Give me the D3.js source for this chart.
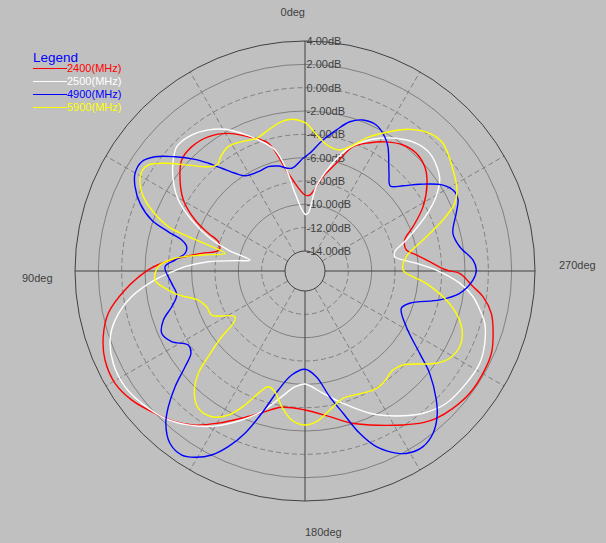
<!DOCTYPE html>
<html><head><meta charset="utf-8">
<script src="https://cdn.jsdelivr.net/npm/d3@7"></script>
<style>html,body{margin:0;padding:0;background:#c0c0c0;}svg{display:block;}</style>
</head><body>
<script>
// ---- data (angle in degrees, counter-clockwise from 0deg at top; gain in dB) ----
const seriesNames = ["2400(MHz)", "2500(MHz)", "4900(MHz)", "5900(MHz)"];
const seriesColors = ["#ff0000", "#ffffff", "#0000ff", "#ffff00"];

const redAngles = [0,9.7,16,22.9,29.1,35.8,42.3,48,53.9,59.7,65.1,68.7,71.3,76.3,80.3,83.2,86.9,89.6,96,102.1,108,114,120.6,126.7,133.5,139.2,144.5,150.3,156.7,163,170.3,180,189.6,196.4,202.8,212.5,217.9,221.7,227.1,233.4,240.1,246.2,251.7,257.2,261.8,264.7,269.1,270.4,274.3,278.2,281.7,287.3,292.3,298.6,305.7,311.1,316.6,322.1,327.8,333.2,338.9,343.8,349.2,356.5];
const redDb = [-9.2,-7.22,-4.32,-3.22,-2.21,-1.53,-1.30,-1.49,-2.46,-3.64,-5.33,-6.82,-7.87,-8.13,-6.73,-5.36,-3.41,-2.28,-0.20,1.53,2.47,3.05,3.20,2.80,2.01,1.34,0.51,-0.70,-1.97,-3.01,-3.86,-3.80,-3.05,-2.16,-1.40,-0.07,0.76,1.20,1.59,1.87,1.88,1.75,1.27,0.66,-0.30,-1.25,-2.45,-3.60,-5.00,-6.08,-6.84,-6.77,-5.71,-4.19,-2.83,-2.10,-1.83,-2.03,-2.63,-3.40,-4.30,-6.10,-7.49,-9.2];

const whiteAngles = [0,7.3,10.3,13.9,19.6,24.7,29.4,34.4,41,45.9,49.9,55.4,60.7,65.8,70.5,74.7,78.7,81.6,84.5,87.9,90.4,93.4,98.4,104.5,109.5,115.7,122.7,129,136.5,142.8,149.9,157,162.9,169.5,175.1,180,188.4,196,204.5,212.2,219.7,226.9,235.2,242.2,248.1,253.8,256.5,261.3,265.5,270.4,274,279.1,282.1,287,293.4,298.7,304,307.2,313.3,318.9,325.5,330.6,335.8,341.2,346.7,352.4,357];
const whiteDb = [-10.85,-9.00,-6.92,-5.03,-3.79,-2.73,-1.77,-1.06,-0.47,-0.41,-0.95,-1.99,-3.27,-5.07,-6.92,-8.90,-10.91,-9.65,-7.39,-5.42,-4.29,-2.83,-0.70,1.10,2.01,2.53,2.63,2.30,1.70,0.85,-0.35,-1.84,-3.10,-4.76,-5.76,-6.03,-5.12,-3.92,-2.32,-1.03,0.13,0.88,1.13,1.22,0.89,0.33,-0.17,-1.14,-2.41,-4.46,-6.15,-7.93,-7.85,-6.64,-4.70,-3.04,-1.78,-1.40,-1.01,-1.19,-1.91,-2.66,-3.57,-4.75,-6.53,-8.42,-10.76];

const blueAngles = [1,7.4,14.3,19.4,25.2,32.2,35.6,39,41.9,44.6,48.7,52.7,56.2,60.1,63.6,67.7,71.6,74,75.9,78.4,81.6,85.2,88.2,95.3,100.6,105,109.1,113.5,117.9,122.4,125.8,128.6,131.7,134.8,137.6,141.9,146.2,149.4,153.1,156.4,159.7,163.1,167.4,172.7,180,186.1,191.1,195,198.6,202.1,207,209.9,213.9,218.3,222.2,225.5,230.6,234.3,241.2,248.8,252.9,257.9,261.8,266.9,270.3,273.7,278.9,284.3,290.9,294.9,297.9,301.9,307.1,311,314.9,319.3,326.3,329.3,334,339,343.3,347.5,352.2,357.7];
const blueDb = [-6.05,-6.83,-6.43,-6.23,-6.31,-6.06,-5.41,-4.38,-3.31,-2.27,-0.88,0.45,1.13,1.09,0.55,-0.43,-1.86,-3.53,-4.82,-5.36,-5.32,-4.53,-3.71,-4.24,-4.53,-3.89,-2.87,-2.32,-2.78,-3.87,-3.66,-2.56,-0.80,0.79,1.98,3.05,3.27,2.83,1.97,0.72,-0.89,-2.97,-5.26,-6.73,-7.29,-6.60,-4.73,-3.09,-1.03,0.54,1.83,2.26,2.42,2.00,1.14,0.07,-1.89,-3.61,-5.81,-6.86,-6.32,-3.90,-2.32,-1.30,-1.03,-1.28,-2.29,-2.63,-1.84,-1.25,-1.19,-1.78,-3.39,-4.58,-5.39,-4.67,-2.90,-2.33,-1.79,-1.85,-2.36,-3.34,-4.38,-5.62];

const yellowAngles = [0,4.4,8.9,14.6,20,26.1,31.7,35.7,39.8,42.8,47.8,52.4,55.9,58.7,62,65.3,68.3,72,73.6,75,77.5,81.2,84.4,88.3,93.4,97,100.7,105.2,110,115.3,123.1,126.1,128.3,131.5,133.8,137.9,142.2,147.4,152,155.9,159.1,162.4,166,170.3,174.9,180,184.3,190.1,196.6,204,209.7,214.8,221.6,226.2,234.9,238.9,243.9,248.4,253.4,258.4,264.2,270.6,278,284.7,290.3,294.3,298.1,304.3,312.8,317.8,323.5,328.7,334.3,339.1,344,348.8,353.7,358.1];
const yellowDb = [-3.00,-2.67,-2.76,-3.23,-3.61,-3.37,-3.19,-3.47,-3.89,-3.53,-2.20,-0.58,0.50,0.67,0.31,-0.46,-1.57,-3.40,-5.29,-7.13,-8.69,-6.76,-4.52,-3.13,-2.83,-3.62,-4.66,-6.23,-6.75,-6.87,-8.55,-8.11,-6.62,-4.64,-3.05,-1.57,-0.81,-0.89,-1.73,-3.13,-4.49,-5.31,-5.05,-3.91,-2.89,-2.51,-2.76,-3.61,-4.32,-4.18,-3.96,-4.00,-4.36,-4.07,-1.96,-1.23,-0.95,-1.21,-2.03,-3.35,-5.27,-7.31,-6.95,-5.26,-3.11,-1.63,-0.95,-0.35,0.40,0.21,-0.61,-1.74,-2.93,-4.16,-4.92,-4.85,-4.27,-3.34];

const ringValues = [4, 2, 0, -2, -4, -6, -8, -10, -12, -14];
const ringLabels = ["4.00dB","2.00dB","0.00dB","-2.00dB","-4.00dB","-6.00dB","-8.00dB","-10.00dB","-12.00dB","-14.00dB"];
const spokeAngles = [30, 60, 120, 150, 210, 240, 300, 330];
const axisLabels = ["0deg", "90deg", "180deg", "270deg"];

// ---- drawing ----
const W = 606, H = 543, cx = 305, cy = 271;
const r = d3.scaleLinear().domain([-14, 4]).range([20, 230]);
const rad = d => -d * Math.PI / 180;

const svg = d3.select("body").append("svg").attr("width", W).attr("height", H)
  .style("font-family", "'Liberation Sans', Arial, sans-serif");
svg.append("rect").attr("width", W).attr("height", H).attr("fill", "#c0c0c0");
const g = svg.append("g").attr("transform", `translate(${cx},${cy})`);

// rings
ringValues.slice(1, -1).forEach((v, i) => {
  g.append("circle").attr("r", r(v)).attr("fill", "none")
    .attr("stroke", "#808080").attr("stroke-width", 1)
    .attr("stroke-dasharray", (i % 2 === 0) ? null : "5,3");
});
// spokes
spokeAngles.forEach(a => {
  const t = rad(a);
  g.append("line")
    .attr("x1", r(-14) * Math.sin(t)).attr("y1", -r(-14) * Math.cos(t))
    .attr("x2", r(4) * Math.sin(t)).attr("y2", -r(4) * Math.cos(t))
    .attr("stroke", "#808080").attr("stroke-dasharray", "5,3");
});
// main axes
[0, 90, 180, 270].forEach(a => {
  const t = rad(a);
  g.append("line")
    .attr("x1", r(-14) * Math.sin(t)).attr("y1", -r(-14) * Math.cos(t))
    .attr("x2", r(4) * Math.sin(t)).attr("y2", -r(4) * Math.cos(t))
    .attr("stroke", "#404040");
});
g.append("circle").attr("r", r(4)).attr("fill", "none").attr("stroke", "#404040");
g.append("circle").attr("r", r(-14)).attr("fill", "none").attr("stroke", "#404040");

// ring labels
ringValues.forEach((v, i) => {
  g.append("text").attr("x", 1.5).attr("y", -r(v)).attr("dy", "0.35em")
    .attr("font-size", 11).attr("fill", "#404040").text(ringLabels[i]);
});

// angle labels
const lab = (x, y, t, anchor) => svg.append("text").attr("x", x).attr("y", y)
  .attr("text-anchor", anchor).attr("font-size", 11).attr("fill", "#404040").text(t);
lab(305, 16, axisLabels[0], "end");
lab(22, 282, axisLabels[1], "start");
lab(305, 536, axisLabels[2], "start");
lab(559, 269, axisLabels[3], "start");

// curves
const series = [
  [redAngles, redDb], [whiteAngles, whiteDb], [blueAngles, blueDb], [yellowAngles, yellowDb]
];
const line = d3.lineRadial().angle(d => rad(d[0])).radius(d => r(d[1]))
  .curve(d3.curveCatmullRomClosed.alpha(0.5));
series.forEach(([angs, dbs], i) => {
  const pts = angs.map((a, j) => [a, dbs[j]]);
  g.append("path").attr("d", line(pts)).attr("fill", "none")
    .attr("stroke", seriesColors[i]).attr("stroke-width", 1.4);
});

// legend
svg.append("text").attr("x", 33).attr("y", 62).attr("font-size", 13.5)
  .attr("fill", "#0000ff").text("Legend");
seriesNames.forEach((n, i) => {
  const y = 68 + i * 13;
  svg.append("line").attr("x1", 33).attr("x2", 67).attr("y1", y + 0.5).attr("y2", y + 0.5)
    .attr("stroke", seriesColors[i]);
  svg.append("text").attr("x", 67).attr("y", y).attr("dy", "0.36em")
    .attr("font-size", 11).attr("fill", seriesColors[i]).text(n);
});
</script>
</body></html>
